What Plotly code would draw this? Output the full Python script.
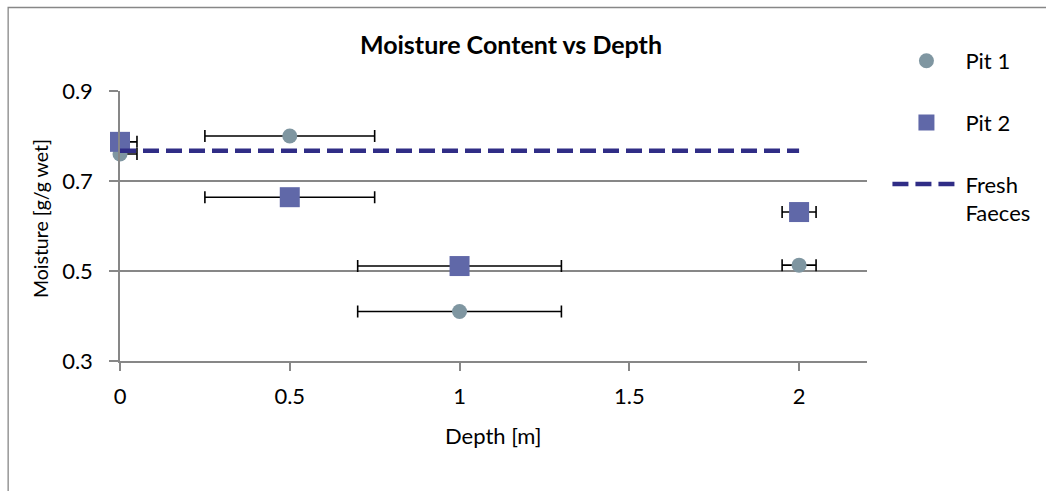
import plotly.graph_objects as go

# Data
depth = [0, 0.5, 1, 2]
pit1_moisture = [0.76, 0.80, 0.41, 0.513]
pit2_moisture = [0.787, 0.664, 0.511, 0.631]
depth_err_plus = [0.05, 0.25, 0.3, 0.05]
depth_err_minus = [0, 0.25, 0.3, 0.05]
fresh_depth = [0, 2]
fresh_moisture = [0.767, 0.767]
x_ticks = [0, 0.5, 1, 1.5, 2]
y_ticks = [0.3, 0.5, 0.7, 0.9]

FONT = "Lato, 'Open Sans', sans-serif"
GRAY = "#878787"
FS = 22

err_style = dict(type="data", symmetric=False, array=depth_err_plus, arrayminus=depth_err_minus,
                 color="black", thickness=1.6, width=6)

fig = go.Figure()
fig.add_trace(go.Scatter(
    x=depth, y=pit1_moisture, mode="markers", name="Pit 1", legendgroup="a",
    marker=dict(symbol="circle", size=15, color="#7F96A1"),
    error_x=err_style, cliponaxis=False))
fig.add_trace(go.Scatter(
    x=depth, y=pit2_moisture, mode="markers", name="Pit 2", legendgroup="b",
    marker=dict(symbol="square", size=20, color="#6068A8"),
    error_x=err_style, cliponaxis=False))
fig.add_trace(go.Scatter(
    x=fresh_depth, y=fresh_moisture, mode="lines", name="Fresh<br>Faeces", legendgroup="c",
    line=dict(color="#302D86", width=4.5, dash="16px,7px")))

fig.update_layout(
    width=1046, height=491,
    margin=dict(l=120, r=178, t=91, b=130),
    paper_bgcolor="white", plot_bgcolor="white",
    font=dict(family=FONT, size=FS, color="black"),
    title=dict(text="<b>Moisture Content vs Depth</b>", x=0.4885, xanchor="center",
               y=1 - 45 / 491, yanchor="middle", yref="container",
               font=dict(family=FONT, size=25, color="black")),
    xaxis=dict(range=[0, 2.2], tickvals=x_ticks, ticktext=[str(v) for v in [0, 0.5, 1, 1.5, 2]],
               showgrid=False, zeroline=False, showline=True, linecolor=GRAY, linewidth=1.5,
               ticks="outside", ticklen=8, tickcolor=GRAY, tickwidth=1.5,
               ticklabelstandoff=7, fixedrange=True),
    yaxis=dict(range=[0.3, 0.9], tickvals=y_ticks, ticktext=["0.3", "0.5", "0.7", "0.9"],
               showgrid=True, gridcolor=GRAY, gridwidth=1.5, zeroline=False,
               showline=True, linecolor=GRAY, linewidth=1.5,
               ticks="outside", ticklen=9, tickcolor=GRAY, tickwidth=1.5,
               ticklabelstandoff=12, fixedrange=True),
    legend=dict(x=1.03 - 3 / 748, xanchor="left", y=1.2 - 3 / 270, yanchor="top", valign="top",
                tracegroupgap=30, itemwidth=68, font=dict(family=FONT, size=FS),
                bgcolor="rgba(0,0,0,0)"),
    annotations=[
        dict(text="Moisture [g/g wet]", textangle=-90, xref="paper", yref="paper",
             x=(40 - 120) / 748, y=(361 - 219) / 270, xanchor="center", yanchor="middle",
             showarrow=False, font=dict(family=FONT, size=19.5)),
        dict(text="Depth [m]", xref="paper", yref="paper",
             x=(494 - 120) / 748, y=(361 - 435) / 270, xanchor="center", yanchor="middle",
             showarrow=False, font=dict(family=FONT, size=FS)),
    ],
    shapes=[dict(type="rect", xref="paper", yref="paper",
                 x0=(8 - 120) / 748, x1=1.4, y0=-0.7, y1=(361 - 7.5) / 270,
                 line=dict(color=GRAY, width=1.3), fillcolor="rgba(0,0,0,0)", layer="below")],
)

fig.write_html("out.html")
